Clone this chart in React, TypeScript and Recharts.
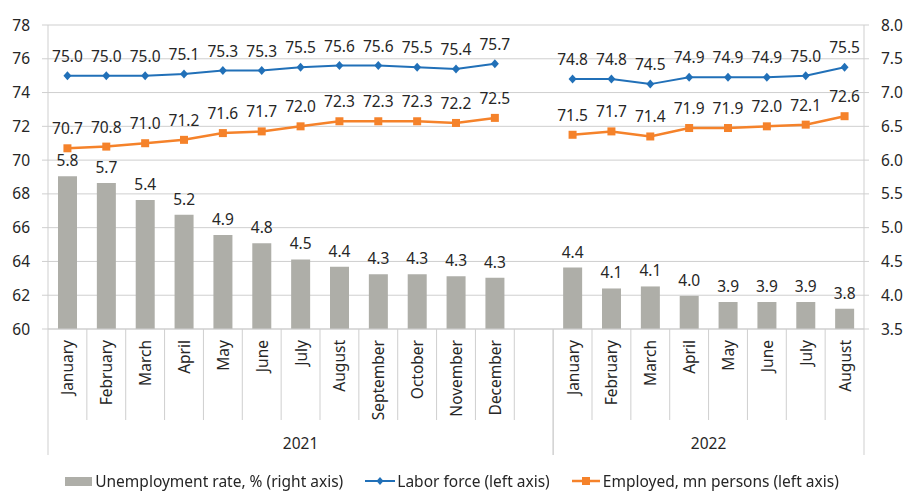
import {
  Bar,
  CartesianGrid,
  ComposedChart,
  LabelList,
  Legend,
  Line,
  XAxis,
  YAxis,
} from 'recharts';

const GRAY = '#aeaea8';
const BLUE = '#2170b8';
const ORANGE = '#f5822a';
const GRID = '#cfcfcf';
const INK = '#262626';
const FONT = '"Noto Sans", sans-serif';
const FS = 15.5;

const MONTHS_2021 = [
  'January', 'February', 'March', 'April', 'May', 'June',
  'July', 'August', 'September', 'October', 'November', 'December',
];
const MONTHS_2022 = ['January', 'February', 'March', 'April', 'May', 'June', 'July', 'August'];
const MONTHS = [...MONTHS_2021, '', ...MONTHS_2022];

const YEARS = [
  { year: '2021', from: 0, to: 12 },
  { year: '2022', from: 13, to: 20 },
];

const UNEMPLOYMENT = [
  5.76, 5.66, 5.41, 5.19, 4.89, 4.77, 4.53, 4.42, 4.31, 4.31, 4.28, 4.26,
  null,
  4.41, 4.1, 4.13, 3.99, 3.9, 3.9, 3.9, 3.8,
];
const LABOR_FORCE = [
  75.0, 75.0, 75.0, 75.1, 75.3, 75.3, 75.5, 75.6, 75.6, 75.5, 75.4, 75.7,
  null,
  74.8, 74.8, 74.5, 74.9, 74.9, 74.9, 75.0, 75.5,
];
const EMPLOYED = [
  70.7, 70.8, 71.0, 71.2, 71.6, 71.7, 72.0, 72.3, 72.3, 72.3, 72.2, 72.5,
  null,
  71.5, 71.7, 71.4, 71.9, 71.9, 72.0, 72.1, 72.6,
];

const LEFT_TICKS = [60, 62, 64, 66, 68, 70, 72, 74, 76, 78];
const RIGHT_TICKS = [3.5, 4.0, 4.5, 5.0, 5.5, 6.0, 6.5, 7.0, 7.5, 8.0];

const data = MONTHS.map((month, i) => ({
  key: `c${i}`,
  month,
  unemployment: UNEMPLOYMENT[i],
  labor: LABOR_FORCE[i],
  employed: EMPLOYED[i],
}));

const WIDTH = 904;
const HEIGHT = 491;
const MARGIN = { top: 25, right: 0, bottom: 0, left: 8 };
const LEFT_W = 40;
const RIGHT_W = 40;
const BAND = (WIDTH - MARGIN.left - MARGIN.right - LEFT_W - RIGHT_W) / MONTHS.length;

const fmt = (v: any) => (v == null ? '' : Number(v).toFixed(1));

function MonthTick(props: any) {
  const { x, y, index } = props;
  const half = BAND / 2;
  const group = YEARS.find((g) => index >= g.from && index <= g.to)!;
  const isEnd = index === group.to;
  const isStart = index === group.from;
  return (
    <g>
      <line x1={x + half} x2={x + half} y1={y} y2={y + (isEnd ? 126 : 91)} stroke={GRID} />
      {isStart && <line x1={x - half} x2={x - half} y1={y} y2={y + 126} stroke={GRID} />}
      <text
        x={x}
        y={y + 11}
        transform={`rotate(-90, ${x}, ${y + 11})`}
        textAnchor="end"
        dominantBaseline="central"
        fontSize={FS}
        fontFamily={FONT}
        fill={INK}
      >
        {MONTHS[index]}
      </text>
      {isStart && (
        <text
          x={x - half + ((group.to - group.from + 1) * BAND) / 2}
          y={y + 120}
          textAnchor="middle"
          fontSize={FS}
          fontFamily={FONT}
          fill={INK}
        >
          {group.year}
        </text>
      )}
    </g>
  );
}

function DiamondDot(p: any) {
  if (p.cy == null || p.value == null) return <g key={p.index} />;
  const { cx, cy } = p;
  return (
    <path
      key={p.index}
      d={`M${cx},${cy - 4.5}L${cx + 4},${cy}L${cx},${cy + 4.5}L${cx - 4},${cy}Z`}
      fill={BLUE}
    />
  );
}

function SquareDot(p: any) {
  if (p.cy == null || p.value == null) return <g key={p.index} />;
  return <rect key={p.index} x={p.cx - 4} y={p.cy - 4} width={8} height={8} fill={ORANGE} />;
}

function ChartLegend() {
  const item = { display: 'flex', alignItems: 'center', marginRight: 22 } as const;
  return (
    <div
      style={{
        display: 'flex',
        justifyContent: 'center',
        alignItems: 'center',
        height: 20,
        paddingRight: 8,
        fontFamily: FONT,
        fontSize: FS,
        color: INK,
      }}
    >
      <div style={item}>
        <svg width={27} height={9} style={{ marginRight: 3 }}>
          <rect width={27} height={9} fill={GRAY} />
        </svg>
        Unemployment rate, % (right axis)
      </div>
      <div style={item}>
        <svg width={30} height={10} style={{ marginRight: 2 }}>
          <line x1={0} x2={30} y1={5} y2={5} stroke={BLUE} strokeWidth={2} />
          <path d="M15,1L18.5,5L15,9L11.5,5Z" fill={BLUE} />
        </svg>
        Labor force (left axis)
      </div>
      <div style={{ ...item, marginRight: 0 }}>
        <svg width={28} height={10} style={{ marginRight: 3 }}>
          <line x1={0} x2={28} y1={5} y2={5} stroke={ORANGE} strokeWidth={2.5} />
          <rect x={10} y={1} width={8} height={8} fill={ORANGE} />
        </svg>
        Employed, mn persons (left axis)
      </div>
    </div>
  );
}

export default function App() {
  const tickStyle = { fontSize: FS, fontFamily: FONT, fill: INK };
  const labelStyle = { fontSize: FS, fontFamily: FONT, fill: INK };
  return (
    <div style={{ position: 'fixed', left: 0, top: 0, width: WIDTH, height: HEIGHT, background: '#fff' }}>
      <ComposedChart width={WIDTH} height={HEIGHT} data={data} margin={MARGIN}>
        <CartesianGrid yAxisId="left" vertical={false} stroke={GRID} />
        <XAxis
          dataKey="key"
          interval={0}
          height={142}
          tickSize={0}
          tickMargin={0}
          tickLine={false}
          axisLine={{ stroke: GRID }}
          tick={<MonthTick />}
        />
        <YAxis
          yAxisId="left"
          domain={[60, 78]}
          ticks={LEFT_TICKS}
          width={LEFT_W}
          tickSize={6}
          tickMargin={12}
          axisLine={{ stroke: GRID }}
          tickLine={{ stroke: GRID }}
          tick={tickStyle}
        />
        <YAxis
          yAxisId="right"
          orientation="right"
          domain={[3.5, 8]}
          ticks={RIGHT_TICKS}
          width={RIGHT_W}
          tickSize={5}
          tickMargin={12}
          axisLine={{ stroke: GRID }}
          tickLine={{ stroke: GRID }}
          tick={tickStyle}
          tickFormatter={(v: number) => v.toFixed(1)}
        />
        <Legend verticalAlign="bottom" content={<ChartLegend />} />
        <Bar
          yAxisId="right"
          dataKey="unemployment"
          fill={GRAY}
          barSize={19}
          isAnimationActive={false}
        >
          <LabelList
            dataKey="unemployment"
            position="top"
            offset={10}
            formatter={fmt}
            style={labelStyle}
          />
        </Bar>
        <Line
          yAxisId="left"
          dataKey="labor"
          stroke={BLUE}
          strokeWidth={2}
          dot={DiamondDot}
          activeDot={false}
          isAnimationActive={false}
        >
          <LabelList dataKey="labor" position="top" offset={14} formatter={fmt} style={labelStyle} />
        </Line>
        <Line
          yAxisId="left"
          dataKey="employed"
          stroke={ORANGE}
          strokeWidth={2.5}
          dot={SquareDot}
          activeDot={false}
          isAnimationActive={false}
        >
          <LabelList dataKey="employed" position="top" offset={14} formatter={fmt} style={labelStyle} />
        </Line>
      </ComposedChart>
    </div>
  );
}
